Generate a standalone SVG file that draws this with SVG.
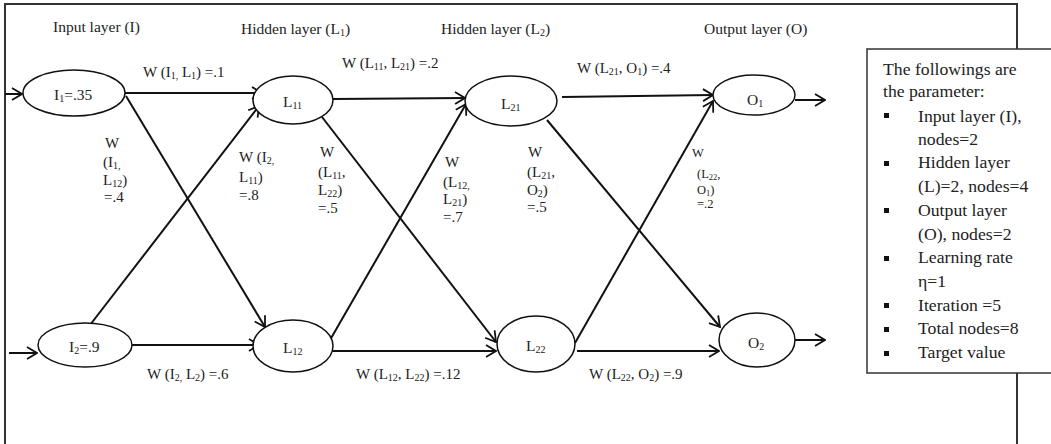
<svg xmlns="http://www.w3.org/2000/svg" width="1051" height="444" viewBox="0 0 1051 444" font-family="'Liberation Serif', 'DejaVu Serif', serif">
<style>
text{font-family:'Liberation Serif','DejaVu Serif',serif;fill:#222}
.t{font-size:15.5px}
.w{font-size:15px}
.ws{font-size:12.5px}
.p{font-size:17.7px}
.s{font-size:10px}
.ss{font-size:8.5px}
.node{fill:#fff;stroke:#111;stroke-width:1.5}
.c{stroke:#111;stroke-width:2;fill:none}
</style>
<defs>
<marker id="a" viewBox="0 0 12 14" refX="11" refY="7" markerWidth="12" markerHeight="14" markerUnits="userSpaceOnUse" orient="auto">
<path d="M1,1 L11,7 L1,13" fill="none" stroke="#111" stroke-width="1.8"/>
</marker>
</defs>
<rect width="1051" height="444" fill="#fff"/>
<path d="M5,444 V4 H1017 V444" fill="none" stroke="#333" stroke-width="2"/>

<g id="titles" class="t">
<text x="53" y="32">Input layer (I)</text>
<text x="241" y="34">Hidden layer (L<tspan class="s" dy="2">1</tspan><tspan dy="-2">)</tspan></text>
<text x="441" y="34">Hidden layer (L<tspan class="s" dy="2">2</tspan><tspan dy="-2">)</tspan></text>
<text x="704" y="34">Output layer (O)</text>
</g>

<g id="connectors">
<line class="c" x1="5" y1="94" x2="22" y2="94" marker-end="url(#a)"/>
<line class="c" x1="9" y1="353" x2="37" y2="353" marker-end="url(#a)"/>
<line class="c" x1="125" y1="93" x2="262" y2="93" marker-end="url(#a)"/>
<line class="c" x1="126" y1="96" x2="265" y2="327" marker-end="url(#a)"/>
<line class="c" x1="90" y1="325" x2="259" y2="106" marker-end="url(#a)"/>
<line class="c" x1="132" y1="345" x2="259" y2="345" marker-end="url(#a)"/>
<line class="c" x1="333" y1="99" x2="465" y2="98" marker-end="url(#a)"/>
<line class="c" x1="322" y1="117" x2="496" y2="342" marker-end="url(#a)"/>
<line class="c" x1="330" y1="340" x2="466" y2="104" marker-end="url(#a)"/>
<line class="c" x1="332" y1="351" x2="496" y2="351" marker-end="url(#a)"/>
<line class="c" x1="562" y1="97" x2="713" y2="95" marker-end="url(#a)"/>
<line class="c" x1="547" y1="120" x2="720" y2="327" marker-end="url(#a)"/>
<line class="c" x1="575" y1="343" x2="713" y2="101" marker-end="url(#a)"/>
<line class="c" x1="577" y1="351" x2="719" y2="351" marker-end="url(#a)"/>
<line class="c" x1="795" y1="100" x2="825" y2="100" marker-end="url(#a)"/>
<line class="c" x1="795" y1="340" x2="825" y2="340" marker-end="url(#a)"/>
</g>

<g id="node-I1"><ellipse class="node" cx="74" cy="93" rx="51" ry="23"/><text class="t" x="54" y="100">I<tspan class="s" dy="2">1</tspan><tspan dy="-2">=.35</tspan></text></g>
<g id="node-I2"><ellipse class="node" cx="85" cy="345" rx="47" ry="22"/><text class="t" x="69" y="352">I<tspan class="s" dy="2">2</tspan><tspan dy="-2">=.9</tspan></text></g>
<g id="node-L11"><ellipse class="node" cx="293" cy="100" rx="40" ry="24"/><text class="t" x="283" y="107">L<tspan class="s" dy="2">11</tspan></text></g>
<g id="node-L12"><ellipse class="node" cx="293" cy="346" rx="40" ry="26"/><text class="t" x="283" y="353">L<tspan class="s" dy="2">12</tspan></text></g>
<g id="node-L21"><ellipse class="node" cx="511" cy="101" rx="46" ry="25"/><text class="t" x="501" y="109">L<tspan class="s" dy="2">21</tspan></text></g>
<g id="node-L22"><ellipse class="node" cx="536" cy="344" rx="39" ry="28"/><text class="t" x="526" y="351">L<tspan class="s" dy="2">22</tspan></text></g>
<g id="node-O1"><ellipse class="node" cx="754" cy="95" rx="41" ry="20"/><text class="t" x="747" y="105">O<tspan class="s" dy="2">1</tspan></text></g>
<g id="node-O2"><ellipse class="node" cx="757" cy="340" rx="38" ry="27"/><text class="t" x="748" y="348">O<tspan class="s" dy="2">2</tspan></text></g>

<g id="weights" class="w">
<text x="143" y="77">W (I<tspan class="s" dy="2">1,</tspan><tspan dy="-2"> L</tspan><tspan class="s" dy="2">1</tspan><tspan dy="-2">) =.1</tspan></text>
<text x="342" y="68">W (L<tspan class="s" dy="2">11</tspan><tspan dy="-2">, L</tspan><tspan class="s" dy="2">21</tspan><tspan dy="-2">) =.2</tspan></text>
<text x="577" y="73">W (L<tspan class="s" dy="2">21</tspan><tspan dy="-2">, O</tspan><tspan class="s" dy="2">1</tspan><tspan dy="-2">) =.4</tspan></text>
<text x="147" y="379">W (I<tspan class="s" dy="2">2,</tspan><tspan dy="-2"> L</tspan><tspan class="s" dy="2">2</tspan><tspan dy="-2">) =.6</tspan></text>
<text x="356" y="379">W (L<tspan class="s" dy="2">12</tspan><tspan dy="-2">, L</tspan><tspan class="s" dy="2">22</tspan><tspan dy="-2">) =.12</tspan></text>
<text x="589" y="379">W (L<tspan class="s" dy="2">22</tspan><tspan dy="-2">, O</tspan><tspan class="s" dy="2">2</tspan><tspan dy="-2">) =.9</tspan></text>

<text x="105" y="148">W</text>
<text x="103" y="167">(I<tspan class="s" dy="2">1,</tspan></text>
<text x="103" y="185">L<tspan class="s" dy="2">12</tspan><tspan dy="-2">)</tspan></text>
<text x="104" y="202">=.4</text>

<text x="239" y="162">W (I<tspan class="s" dy="2">2,</tspan></text>
<text x="239" y="182">L<tspan class="s" dy="2">11</tspan><tspan dy="-2">)</tspan></text>
<text x="239" y="200">=.8</text>

<text x="320" y="157">W</text>
<text x="318" y="177">(L<tspan class="s" dy="2">11</tspan><tspan dy="-2">,</tspan></text>
<text x="318" y="195">L<tspan class="s" dy="2">22</tspan><tspan dy="-2">)</tspan></text>
<text x="318" y="213">=.5</text>

<text x="445" y="167">W</text>
<text x="443" y="187">(L<tspan class="s" dy="2">12,</tspan></text>
<text x="443" y="204">L<tspan class="s" dy="2">21</tspan><tspan dy="-2">)</tspan></text>
<text x="443" y="222">=.7</text>

<text x="528" y="157">W</text>
<text x="527" y="177">(L<tspan class="s" dy="2">21</tspan><tspan dy="-2">,</tspan></text>
<text x="527" y="195">O<tspan class="s" dy="2">2</tspan><tspan dy="-2">)</tspan></text>
<text x="527" y="212">=.5</text>

<g class="ws">
<text x="692" y="157">W</text>
<text x="697" y="178">(L<tspan class="ss" dy="2">22</tspan><tspan dy="-2">,</tspan></text>
<text x="697" y="194">O<tspan class="ss" dy="2">1</tspan><tspan dy="-2">)</tspan></text>
<text x="697" y="208">=.2</text>
</g>
</g>

<g id="parameters">
<rect x="867" y="49" width="190" height="324" fill="#fff" stroke="#333" stroke-width="1.5"/>
<g class="p">
<text x="883" y="75">The followings are</text>
<text x="883" y="97">the parameter:</text>
<text x="918" y="122">Input layer (I),</text>
<text x="918" y="145">nodes=2</text>
<text x="918" y="168">Hidden layer</text>
<text x="918" y="192">(L)=2, nodes=4</text>
<text x="918" y="216">Output layer</text>
<text x="918" y="240">(O), nodes=2</text>
<text x="918" y="263">Learning rate</text>
<text x="918" y="287">η=1</text>
<text x="918" y="311">Iteration =5</text>
<text x="918" y="334">Total nodes=8</text>
<text x="918" y="358">Target value</text>
</g>
<g fill="#111">
<rect x="884" y="113" width="5" height="5"/>
<rect x="884" y="161" width="5" height="5"/>
<rect x="884" y="208" width="5" height="5"/>
<rect x="884" y="256" width="5" height="5"/>
<rect x="884" y="303" width="5" height="5"/>
<rect x="884" y="327" width="5" height="5"/>
<rect x="884" y="351" width="5" height="5"/>
</g>
</g>
</svg>
